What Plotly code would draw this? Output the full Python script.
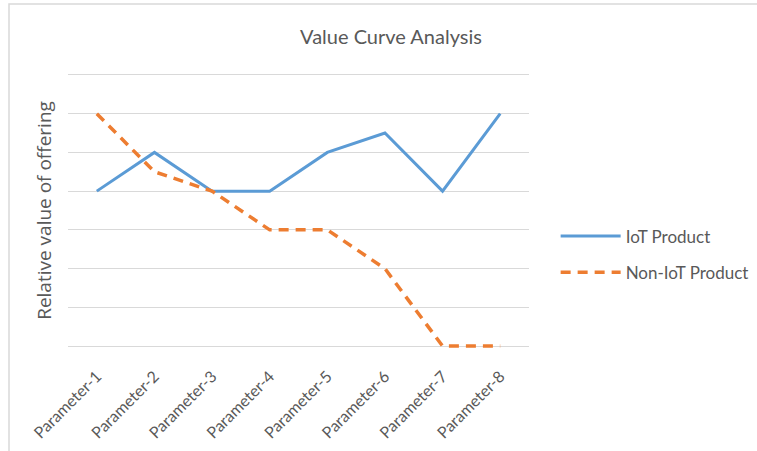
import plotly.graph_objects as go

params = ["Parameter-1", "Parameter-2", "Parameter-3", "Parameter-4",
          "Parameter-5", "Parameter-6", "Parameter-7", "Parameter-8"]
iot = [4, 5, 4, 4, 5, 5.5, 4, 6]
non_iot = [6, 4.5, 4, 3, 3, 2, 0, 0]

grey = "#595959"

fig = go.Figure()

fig.add_trace(go.Scatter(
    x=params, y=iot, mode="lines", name="IoT Product",
    legendgroup="a",
    line=dict(color="#5B9BD5", width=3),
))
fig.add_trace(go.Scatter(
    x=params, y=non_iot, mode="lines", name="Non-IoT Product",
    legendgroup="b",
    line=dict(color="#ED7D31", width=3.5, dash="10px,7px"),
))

fig.update_layout(
    width=757, height=451,
    margin=dict(l=68, r=228, t=73, b=103, autoexpand=False),
    paper_bgcolor="white", plot_bgcolor="white",
    font=dict(family="Lato, Liberation Sans, sans-serif", color=grey),
    title=dict(text="Value Curve Analysis", x=0.5165, xanchor="center",
               y=0.918, yanchor="middle",
               font=dict(size=20, color=grey, family="Lato, sans-serif")),
    showlegend=True,
    legend=dict(xref="container", yref="container",
                x=0.734, xanchor="left", y=0.5155, yanchor="top",
                font=dict(size=17, color=grey),
                traceorder="grouped", tracegroupgap=11, itemwidth=60),
    shapes=[dict(type="rect", xref="paper", yref="paper",
                 x0=(9 - 68) / 461, x1=(900 - 68) / 461,
                 y0=(346 - 600) / 271, y1=(346 - 7) / 271,
                 line=dict(color="#D9D9D9", width=1.5), layer="below")],
)

fig.update_xaxes(
    type="category", range=[-0.5, 7.5],
    tickangle=-45, tickfont=dict(size=16, color=grey),
    ticklabelstandoff=15,
    showgrid=False, showline=False, ticks="",
)
fig.update_yaxes(
    range=[-0.05, 7.05], dtick=1, showticklabels=False,
    showgrid=True, gridcolor="#D9D9D9", gridwidth=1,
    zeroline=True, zerolinecolor="#D9D9D9", zerolinewidth=1,
    title=dict(text="Relative value of offering", standoff=10,
               font=dict(size=19, color=grey, family="Open Sans, sans-serif")),
)

fig.write_html("out.html", config={"displayModeBar": False},
               post_script="document.body.style.margin='0';")
